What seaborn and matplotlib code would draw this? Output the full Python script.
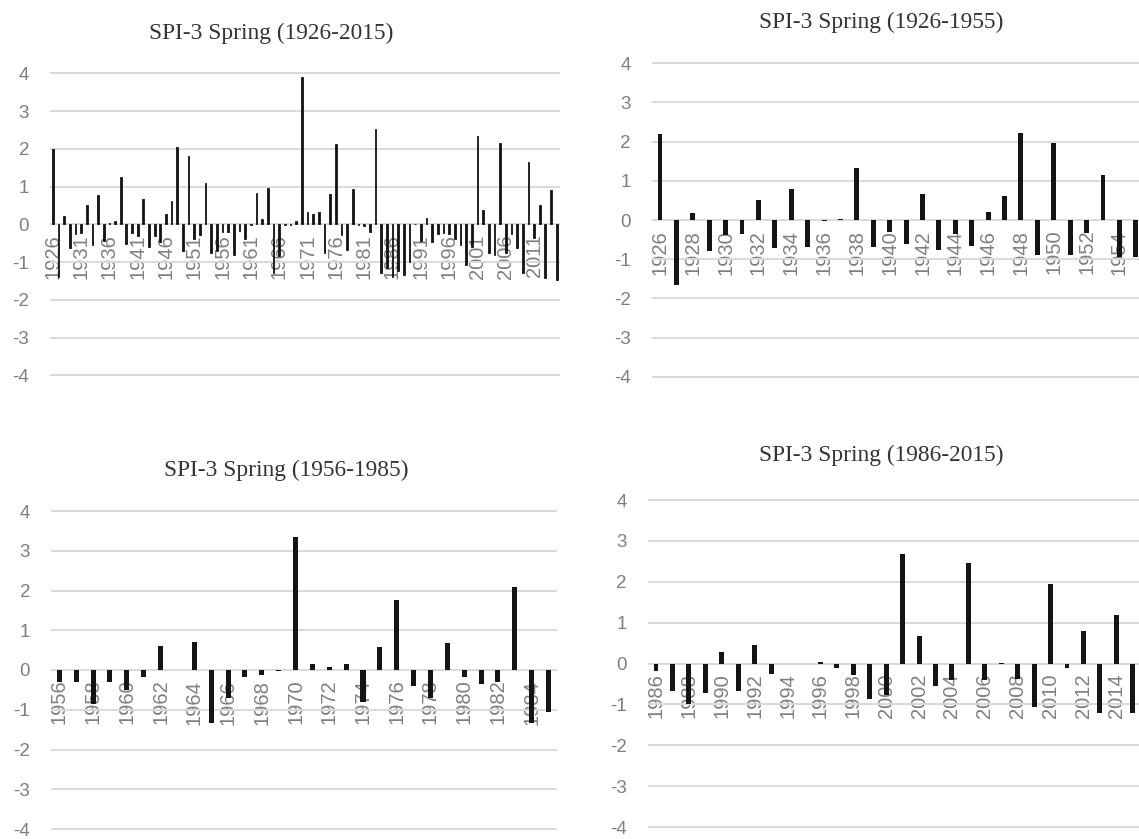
import matplotlib
matplotlib.use("Agg")
import matplotlib.pyplot as plt
import numpy as np
import pandas as pd
import seaborn as sns

# SPI-3 spring values, full record and three 30-year sub-periods
years_full = list(range(1926, 2016))
spi_full = [
    2.00, -1.39, 0.23, -0.62, -0.26, -0.22, 0.51, -0.56, 0.78, -0.45,
    0.04, 0.10, 1.25, -0.52, -0.24, -0.30, 0.67, -0.59, -0.30, -0.46,
    0.26, 0.62, 2.04, -0.71, 1.82, -0.40, -0.28, 1.09, -0.75, -0.72,
    -0.20, -0.20, -0.81, -0.17, -0.40, -0.02, 0.84, 0.14, 0.96, -1.30,
    -0.85, -0.02, -0.01, 0.10, 3.91, 0.33, 0.26, 0.33, -0.77, 0.80,
    2.13, -0.28, -0.68, 0.94, -0.01, -0.05, -0.21, 2.52, -1.30, -1.15,
    -1.40, -1.25, -1.35, -1.00, 0.02, -0.45, 0.17, -0.48, -0.26, -0.22,
    -0.26, -0.39, -0.56, -1.09, -0.60, 2.35, 0.39, -0.77, -0.80, 2.16,
    -0.75, -0.26, -0.62, -1.28, 1.66, -0.35, 0.51, -1.41, 0.90, -1.48,
]

years_p1 = list(range(1926, 1956))
spi_p1 = [
    2.19, -1.66, 0.17, -0.79, -0.38, -0.36, 0.50, -0.72, 0.78, -0.68,
    -0.02, 0.03, 1.34, -0.68, -0.30, -0.61, 0.67, -0.77, -0.35, -0.66,
    0.20, 0.61, 2.23, -0.90, 1.97, -0.90, -0.34, 1.15, -0.94, -0.94,
]

years_p2 = list(range(1956, 1986))
spi_p2 = [
    -0.30, -0.29, -0.85, -0.29, -0.50, -0.18, 0.60, 0.00, 0.71, -1.34,
    -0.71, -0.18, -0.13, -0.02, 3.34, 0.15, 0.08, 0.15, -0.80, 0.57,
    1.76, -0.40, -0.71, 0.68, -0.18, -0.35, -0.31, 2.10, -1.34, -1.05,
]

years_p3 = list(range(1986, 2016))
spi_p3 = [
    -0.19, -0.67, -1.00, -0.71, 0.29, -0.67, 0.45, -0.26, 0.00, 0.00,
    0.03, -0.12, -0.28, -0.87, -0.78, 2.67, 0.67, -0.55, -0.40, 2.46,
    -0.40, 0.01, -0.37, -1.06, 1.95, -0.10, 0.80, -1.20, 1.19, -1.22,
]

titles = [
    "SPI-3 Spring (1926-2015)",
    "SPI-3 Spring (1926-1955)",
    "SPI-3 Spring (1956-1985)",
    "SPI-3 Spring (1986-2015)",
]
label_steps = [5, 2, 2, 2]

sns.set_theme(style="white")
plt.rcParams["font.family"] = ["Liberation Sans", "DejaVu Sans"]

W, H = 1139, 839
fig = plt.figure(figsize=(W / 100, H / 100), dpi=100)

# axes boxes in pixels: left, right, top(y=4), bottom(y=-4)
boxes = [
    (49.9, 559.5, 73.3, 375.3),
    (651.8, 1144.0, 63.3, 376.8),
    (50.9, 557.0, 511.0, 829.0),
    (647.8, 1141.0, 500.0, 827.0),
]
title_pos = [(271, 33), (881, 22), (286, 470), (881, 455)]
bar_widths = [0.30, 0.30, 0.30, 0.30]
edge_widths = [0.6, 0.0, 0.0, 0.0]

datasets = [
    (years_full, spi_full),
    (years_p1, spi_p1),
    (years_p2, spi_p2),
    (years_p3, spi_p3),
]

grid_color = "#d9d9d9"
text_gray = "#7f7f7f"
bar_color = "#141414"

for (yrs, vals), box, title, step, tpos, bw, ew in zip(
        datasets, boxes, titles, label_steps, title_pos, bar_widths, edge_widths):
    l, r, t, b = box
    # one pixel of margin so the outer gridlines are not clipped
    unit = (b - t) / 8.0
    margin = 1.0 / unit
    ax = fig.add_axes([l / W, 1 - (b + 1) / H, (r - l) / W, (b - t + 2) / H])
    df = pd.DataFrame({"year": [str(y) for y in yrs], "spi": vals})
    sns.barplot(data=df, x="year", y="spi", ax=ax, color=bar_color,
                saturation=1, width=bw, errorbar=None, zorder=3,
                edgecolor=bar_color, linewidth=ew)
    ax.set_ylim(-4 - margin, 4 + margin)
    ax.set_xlim(-0.5, len(yrs) - 0.5)
    ax.set_yticks(np.arange(-4, 5, 1))
    ax.set_yticklabels([str(v) for v in range(-4, 5)])
    ax.yaxis.grid(True, color=grid_color, linewidth=1.4, zorder=0)
    ax.xaxis.grid(False)
    ax.set_axisbelow(True)
    for s in ax.spines.values():
        s.set_visible(False)
    ax.spines["bottom"].set_position(("data", 0))
    pos = list(range(0, len(yrs), step))
    ax.set_xticks(pos)
    ax.set_xticklabels([str(yrs[i]) for i in pos], rotation=90,
                       fontsize=14.5, color=text_gray)
    ax.tick_params(axis="x", length=0, pad=7)
    ax.tick_params(axis="y", length=0, pad=15, labelsize=13.5,
                   labelcolor=text_gray)
    ax.set_xlabel("")
    ax.set_ylabel("")
    fig.text(tpos[0] / W, 1 - tpos[1] / H, title, ha="center", va="center",
             fontsize=16.8, family=["Liberation Serif", "DejaVu Serif"],
             color="#333333")

fig.savefig("out.png", dpi=100)
